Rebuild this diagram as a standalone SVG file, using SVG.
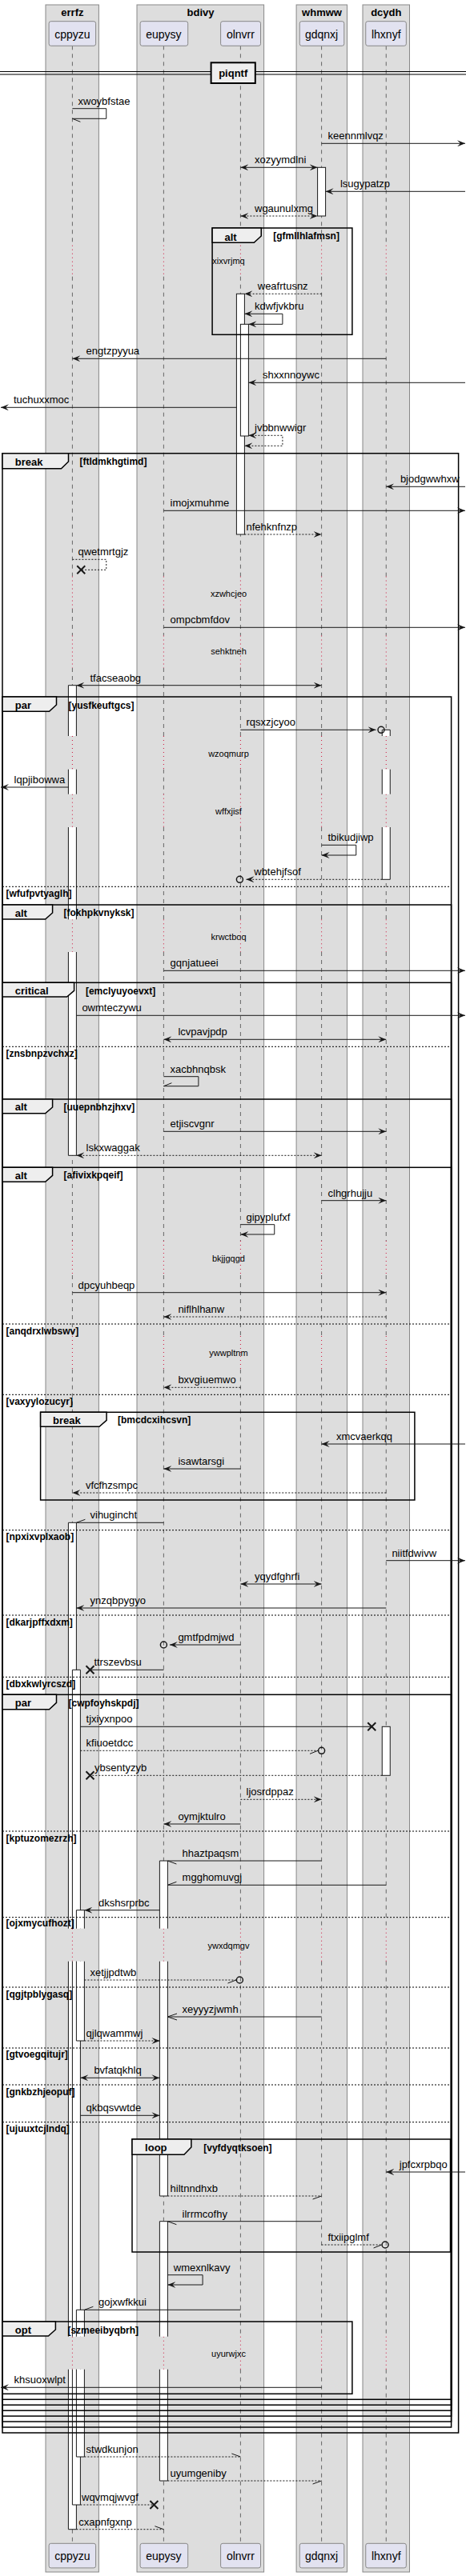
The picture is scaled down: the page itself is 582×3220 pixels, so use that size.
<svg xmlns="http://www.w3.org/2000/svg" width="582" height="3220" viewBox="0 0 582 3220">
<defs>
<style>
text{font-family:"Liberation Sans",Arial,sans-serif;fill:#000}
.bx{fill:#DDDDDD;stroke:#888;stroke-width:1}
.bt{font-size:13px;font-weight:bold;text-anchor:middle}
.pt{fill:#E2E2F0;stroke:#888;stroke-width:1}
.pn{font-size:14px;text-anchor:middle}
.ll{fill:none;stroke:#666;stroke-width:1;stroke-dasharray:5 5}
.dl{fill:none;stroke:#D0103A;stroke-width:1;stroke-dasharray:1 4}
.act{fill:#fff;stroke:none}
.acl{fill:none;stroke:#181818;stroke-width:1}
.fr{fill:none;stroke:#000;stroke-width:1.5}
.tab{fill:#EEEEEE;stroke:#000;stroke-width:1.5}
.sep{fill:none;stroke:#000;stroke-width:1;stroke-dasharray:2 2}
.fl{font-size:13px;font-weight:bold}
.gc{font-size:12px;font-weight:bold}
.m{fill:none;stroke:#181818;stroke-width:1}
.d{stroke-dasharray:2 2}
.e{marker-end:url(#fa)}
.b{marker-start:url(#fa);marker-end:url(#fa)}
.cx{fill:none;stroke:#181818;stroke-width:1.5}
.x{fill:none;stroke:#181818;stroke-width:2}
.lb{font-size:13px}
.dt{font-size:11px;text-anchor:middle}
</style>
<marker id="fa" viewBox="0 0 10 8" refX="10" refY="4" markerWidth="10" markerHeight="8" markerUnits="userSpaceOnUse" orient="auto-start-reverse">
<path d="M0,0 L10,4 L0,8 L4,4 Z" fill="#181818" stroke="none"/>
</marker>
</defs>
<rect width="582" height="3220" fill="#fff"/>

<g id="box-errfz"><rect class="bx" x="57" y="6" width="66.4" height="3209"/><text class="bt" x="90.4" y="19.5">errfz</text></g>
<g id="box-bdivy"><rect class="bx" x="171" y="6" width="158.6" height="3209"/><text class="bt" x="250.5" y="19.5">bdivy</text></g>
<g id="box-whmww"><rect class="bx" x="370.1" y="6" width="63.4" height="3209"/><text class="bt" x="402" y="19.5">whmww</text></g>
<g id="box-dcydh"><rect class="bx" x="453" y="6" width="58.5" height="3209"/><text class="bt" x="482.3" y="19.5">dcydh</text></g>

<g id="lifelines">
<path class="ll" d="M90.4,57.3V306.7M90.4,345.7V720.5M90.4,761V794.5M90.4,835V920M90.4,961.7V992.7M90.4,1034V1149.3M90.4,1190V1551M90.4,1594V1670M90.4,1711.7V2410.7M90.4,2451.7V2920.7M90.4,2961.7V3179.3"/>
<path class="ll" d="M204.4,57.3V306.7M204.4,345.7V720.5M204.4,761V794.5M204.4,835V920M204.4,961.7V992.7M204.4,1034V1149.3M204.4,1190V1551M204.4,1594V1670M204.4,1711.7V2410.7M204.4,2451.7V2920.7M204.4,2961.7V3179.3"/>
<path class="ll" d="M300.4,57.3V306.7M300.4,345.7V720.5M300.4,761V794.5M300.4,835V920M300.4,961.7V992.7M300.4,1034V1149.3M300.4,1190V1551M300.4,1594V1670M300.4,1711.7V2410.7M300.4,2451.7V2920.7M300.4,2961.7V3179.3"/>
<path class="ll" d="M401.6,57.3V306.7M401.6,345.7V720.5M401.6,761V794.5M401.6,835V920M401.6,961.7V992.7M401.6,1034V1149.3M401.6,1190V1551M401.6,1594V1670M401.6,1711.7V2410.7M401.6,2451.7V2920.7M401.6,2961.7V3179.3"/>
<path class="ll" d="M482.25,57.3V306.7M482.25,345.7V720.5M482.25,761V794.5M482.25,835V920M482.25,961.7V992.7M482.25,1034V1149.3M482.25,1190V1551M482.25,1594V1670M482.25,1711.7V2410.7M482.25,2451.7V2920.7M482.25,2961.7V3179.3"/>
<path class="dl" d="M90.4,306.7V345.7M90.4,720.5V761M90.4,794.5V835M90.4,920V961.7M90.4,992.7V1034M90.4,1149.3V1190M90.4,1551V1594M90.4,1670V1711.7M90.4,2410.7V2451.7M90.4,2920.7V2961.7"/>
<path class="dl" d="M204.4,306.7V345.7M204.4,720.5V761M204.4,794.5V835M204.4,920V961.7M204.4,992.7V1034M204.4,1149.3V1190M204.4,1551V1594M204.4,1670V1711.7M204.4,2410.7V2451.7M204.4,2920.7V2961.7"/>
<path class="dl" d="M300.4,306.7V345.7M300.4,720.5V761M300.4,794.5V835M300.4,920V961.7M300.4,992.7V1034M300.4,1149.3V1190M300.4,1551V1594M300.4,1670V1711.7M300.4,2410.7V2451.7M300.4,2920.7V2961.7"/>
<path class="dl" d="M401.6,306.7V345.7M401.6,720.5V761M401.6,794.5V835M401.6,920V961.7M401.6,992.7V1034M401.6,1149.3V1190M401.6,1551V1594M401.6,1670V1711.7M401.6,2410.7V2451.7M401.6,2920.7V2961.7"/>
<path class="dl" d="M482.25,306.7V345.7M482.25,720.5V761M482.25,794.5V835M482.25,920V961.7M482.25,992.7V1034M482.25,1149.3V1190M482.25,1551V1594M482.25,1670V1711.7M482.25,2410.7V2451.7M482.25,2920.7V2961.7"/>
</g>

<g id="p-cppyzu"><rect class="pt" x="61.1" y="26.7" width="58.5" height="30.6" rx="2.5"/><text class="pn" x="90.4" y="48">cppyzu</text><rect class="pt" x="61.1" y="3179.3" width="58.5" height="30.6" rx="2.5"/><text class="pn" x="90.4" y="3200">cppyzu</text></g>
<g id="p-eupysy"><rect class="pt" x="175.1" y="26.7" width="59.6" height="30.6" rx="2.5"/><text class="pn" x="204.4" y="48">eupysy</text><rect class="pt" x="175.1" y="3179.3" width="59.6" height="30.6" rx="2.5"/><text class="pn" x="204.4" y="3200">eupysy</text></g>
<g id="p-olnvrr"><rect class="pt" x="275.6" y="26.7" width="49.9" height="30.6" rx="2.5"/><text class="pn" x="300.4" y="48">olnvrr</text><rect class="pt" x="275.6" y="3179.3" width="49.9" height="30.6" rx="2.5"/><text class="pn" x="300.4" y="3200">olnvrr</text></g>
<g id="p-gdqnxj"><rect class="pt" x="374.25" y="26.7" width="55.5" height="30.6" rx="2.5"/><text class="pn" x="401.6" y="48">gdqnxj</text><rect class="pt" x="374.25" y="3179.3" width="55.5" height="30.6" rx="2.5"/><text class="pn" x="401.6" y="3200">gdqnxj</text></g>
<g id="p-lhxnyf"><rect class="pt" x="456.75" y="26.7" width="50.6" height="30.6" rx="2.5"/><text class="pn" x="482.25" y="48">lhxnyf</text><rect class="pt" x="456.75" y="3179.3" width="50.6" height="30.6" rx="2.5"/><text class="pn" x="482.25" y="3200">lhxnyf</text></g>

<g id="divider-piqntf">
<path d="M0,89.5H582M0,93H582" fill="none" stroke="#000" stroke-width="1"/>
<rect x="263.6" y="78.3" width="55.2" height="25.7" fill="#EEEEEE" stroke="#000" stroke-width="2"/>
<text class="fl" x="291.2" y="96" text-anchor="middle">piqntf</text>
</g>

<g id="activations">
<rect class="act" x="396.6" y="209.3" width="10" height="60.7"/><rect class="acl" x="396.6" y="209.3" width="10" height="60.7"/>
<rect class="act" x="295.4" y="367.3" width="10" height="300.7"/><rect class="acl" x="295.4" y="367.3" width="10" height="300.7"/>
<rect class="act" x="300.4" y="405.3" width="10" height="139.7"/><rect class="acl" x="300.4" y="405.3" width="10" height="139.7"/>
<rect class="act" x="85.4" y="856.7" width="10" height="63.3"/><rect class="act" x="85.4" y="961.7" width="10" height="31"/><rect class="act" x="85.4" y="1034" width="10" height="115.3"/><rect class="act" x="85.4" y="1190" width="10" height="254.3"/>
<path class="acl" d="M85.4,856.7H95.4M85.4,1444.3H95.4M85.4,856.7V920M95.4,856.7V920M85.4,961.7V992.7M95.4,961.7V992.7M85.4,1034V1149.3M95.4,1034V1149.3M85.4,1190V1444.3M95.4,1190V1444.3"/>
<rect class="act" x="477.25" y="912.3" width="10" height="7.7"/><rect class="act" x="477.25" y="961.7" width="10" height="31"/><rect class="act" x="477.25" y="1034" width="10" height="65.3"/>
<path class="acl" d="M477.25,912.3H487.25M477.25,1099.3H487.25M477.25,912.3V920M487.25,912.3V920M477.25,961.7V992.7M487.25,961.7V992.7M477.25,1034V1099.3M487.25,1034V1099.3"/>
<rect class="act" x="85.4" y="1903.3" width="10" height="507.4"/><rect class="act" x="85.4" y="2451.7" width="10" height="469"/><rect class="act" x="85.4" y="2961.7" width="10" height="200"/>
<path class="acl" d="M85.4,1903.3H95.4M85.4,3161.7H95.4M85.4,1903.3V2410.7M95.4,1903.3V2410.7M85.4,2451.7V2920.7M95.4,2451.7V2920.7M85.4,2961.7V3161.7M95.4,2961.7V3161.7"/>
<rect class="act" x="90.4" y="2087.3" width="10" height="323.4"/><rect class="act" x="90.4" y="2451.7" width="10" height="469"/><rect class="act" x="90.4" y="2961.7" width="10" height="169.3"/>
<path class="acl" d="M90.4,2087.3H100.4M90.4,3131H100.4M90.4,2087.3V2410.7M100.4,2087.3V2410.7M90.4,2451.7V2920.7M100.4,2451.7V2920.7M90.4,2961.7V3131M100.4,2961.7V3131"/>
<rect class="act" x="95.4" y="2387.7" width="10" height="23"/><rect class="act" x="95.4" y="2451.7" width="10" height="99.3"/>
<path class="acl" d="M95.4,2387.7H105.4M95.4,2551H105.4M95.4,2387.7V2410.7M105.4,2387.7V2410.7M95.4,2451.7V2551M105.4,2451.7V2551"/>
<rect class="act" x="95.4" y="2887.3" width="10" height="33.4"/><rect class="act" x="95.4" y="2961.7" width="10" height="109.3"/>
<path class="acl" d="M95.4,2887.3H105.4M95.4,3071H105.4M95.4,2887.3V2920.7M105.4,2887.3V2920.7M95.4,2961.7V3071M105.4,2961.7V3071"/>
<rect class="act" x="477.25" y="2158.3" width="10" height="61"/><rect class="acl" x="477.25" y="2158.3" width="10" height="61"/>
<rect class="act" x="199.4" y="2326" width="10" height="84.7"/><rect class="act" x="199.4" y="2451.7" width="10" height="293.3"/>
<path class="acl" d="M199.4,2326H209.4M199.4,2745H209.4M199.4,2326V2410.7M209.4,2326V2410.7M199.4,2451.7V2745M209.4,2451.7V2745"/>
<rect class="act" x="199.4" y="2776.7" width="10" height="144"/><rect class="act" x="199.4" y="2961.7" width="10" height="139.3"/>
<path class="acl" d="M199.4,2776.7H209.4M199.4,3101H209.4M199.4,2776.7V2920.7M209.4,2776.7V2920.7M199.4,2961.7V3101M209.4,2961.7V3101"/>
</g>

<g id="frames">
<g id="f-alt1"><rect class="fr" x="265.1" y="285" width="174.8" height="133.3"/><path class="tab" d="M265.1,285H326.25V295L317.25,303.3H265.1Z"/><text class="fl" x="280.5" y="300.5">alt</text><text class="gc" x="341.25" y="299">[gfmllhlafmsn]</text></g>
<g id="f-break1"><rect class="fr" x="3" y="566.7" width="569.6" height="2474.3"/><path class="tab" d="M3,566.7H85.5V577L76.5,585.7H3Z"/><text class="fl" x="18.75" y="582.2">break</text><text class="gc" x="99.4" y="581.3">[ftldmkhgtimd]</text></g>
<g id="f-par1"><rect class="fr" x="3" y="871" width="560.6" height="2163"/><path class="tab" d="M3,871H70.5V881L61.5,889.3H3Z"/><text class="fl" x="18.75" y="886.3">par</text><text class="gc" x="85.5" y="885.5">[yusfkeuftgcs]</text>
<path class="sep" d="M3,1108.3H563.6"/><text class="gc" x="7.5" y="1120.5">[wfufpvtyaglh]</text></g>
<g id="f-alt2"><rect class="fr" x="3" y="1131" width="560.6" height="1896"/><path class="tab" d="M3,1131H65.6V1141L56.6,1149H3Z"/><text class="fl" x="18.75" y="1145.5">alt</text><text class="gc" x="79.5" y="1144.5">[fokhpkvnyksk]</text></g>
<g id="f-critical"><rect class="fr" x="3" y="1228.3" width="560.6" height="1791.8"/><path class="tab" d="M3,1228.3H92.6V1238.3L83.6,1246H3Z"/><text class="fl" x="18.75" y="1243">critical</text><text class="gc" x="106.9" y="1242.5">[emclyuyoevxt]</text>
<path class="sep" d="M3,1308.3H563.6"/><text class="gc" x="7.5" y="1320.8">[znsbnpzvchxz]</text></g>
<g id="f-alt3"><rect class="fr" x="3" y="1374" width="560.6" height="1639.2"/><path class="tab" d="M3,1374H65.6V1384L56.6,1391.7H3Z"/><text class="fl" x="18.75" y="1388.3">alt</text><text class="gc" x="79.5" y="1387.5">[uuepnbhzjhxv]</text></g>
<g id="f-alt4"><rect class="fr" x="3" y="1459.3" width="560.6" height="1546.9"/><path class="tab" d="M3,1459.3H65.6V1469.3L56.6,1477.3H3Z"/><text class="fl" x="18.75" y="1474">alt</text><text class="gc" x="79.5" y="1473.3">[afivixkpqeif]</text>
<path class="sep" d="M3,1655H563.6M3,1743.3H563.6M3,1912.7H563.6M3,2019H563.6M3,2096.3H563.6"/>
<text class="gc" x="7.5" y="1667.5">[anqdrxlwbswv]</text><text class="gc" x="7.5" y="1755.8">[vaxyylozucyr]</text><text class="gc" x="7.5" y="1925">[npxixvplxaob]</text><text class="gc" x="7.5" y="2031.5">[dkarjpffxdxm]</text><text class="gc" x="7.5" y="2108.5">[dbxkwlyrcszd]</text></g>
<g id="f-break2"><rect class="fr" x="50.6" y="1765.3" width="467.3" height="109.7"/><path class="tab" d="M50.6,1765.3H133.1V1775.3L124.1,1783.3H50.6Z"/><text class="fl" x="66" y="1780">break</text><text class="gc" x="147" y="1779">[bmcdcxihcsvn]</text></g>
<g id="f-par3"><rect class="fr" x="3" y="2118.3" width="560.6" height="881"/><path class="tab" d="M3,2118.3H70.5V2128.3L61.5,2136.7H3Z"/><text class="fl" x="18.75" y="2133">par</text><text class="gc" x="85.5" y="2132.5">[cwpfoyhskpdj]</text>
<path class="sep" d="M3,2289H563.6M3,2396.7H563.6M3,2484H563.6M3,2560H563.6M3,2606H563.6M3,2652.7H563.6"/>
<text class="gc" x="7.5" y="2301.5">[kptuzomezrzh]</text><text class="gc" x="7.5" y="2408">[ojxmycufhozt]</text><text class="gc" x="7.5" y="2496.5">[qgjtpblygasq]</text><text class="gc" x="7.5" y="2572.3">[gtvoegqitujr]</text><text class="gc" x="7.5" y="2618.5">[gnkbzhjeopuf]</text><text class="gc" x="7.5" y="2664.5">[ujuuxtcjlndq]</text></g>
<g id="f-loop"><rect class="fr" x="165" y="2674" width="397.5" height="141"/><path class="tab" d="M165,2674H238.9V2684L229.9,2693.3H165Z"/><text class="fl" x="181.1" y="2689">loop</text><text class="gc" x="254.25" y="2688.5">[vyfdyqtksoen]</text></g>
<g id="f-opt"><rect class="fr" x="3" y="2902" width="436.9" height="90.3"/><path class="tab" d="M3,2902H69.4V2912L60.4,2920H3Z"/><text class="fl" x="18.75" y="2917">opt</text><text class="gc" x="84.4" y="2916.5">[szmeeibyqbrh]</text></g>
</g>

<g id="delays">
<text class="dt" x="285.5" y="329.5">xixvrjmq</text>
<text class="dt" x="285.5" y="746">xzwhcjeo</text>
<text class="dt" x="285.5" y="818">sehktneh</text>
<text class="dt" x="285.5" y="946">wzoqmurp</text>
<text class="dt" x="285.5" y="1018">wffxjisf</text>
<text class="dt" x="285.5" y="1175">krwctboq</text>
<text class="dt" x="285.5" y="1577">bkjjgqgd</text>
<text class="dt" x="285.5" y="1695">ywwpltnm</text>
<text class="dt" x="285.5" y="2435.5">ywxdqmgv</text>
<text class="dt" x="285.5" y="2946">uyurwjxc</text>
</g>

<g id="connectors">
<path class="m" d="M90.4,135.7H132.75V148.3H90.4M90.4,148.3l10,4"/><text class="lb" x="97.5" y="130.7">xwoybfstae</text>
<path class="m e" d="M401.6,179.3H581"/><text class="lb" x="409.5" y="174.3">keennmlvqz</text>
<path class="m b" d="M300.4,209.3H396.6"/><text class="lb" x="318" y="204.3">xozyymdlni</text>
<path class="m e" d="M581,239.3H406.6"/><text class="lb" x="424.9" y="234.3">lsugypatzp</text>
<path class="m d b" d="M300.4,270H396.6"/><text class="lb" x="318" y="265">wgaunulxmg</text>
<path class="m d e" d="M401.6,367.3H305.4"/><text class="lb" x="321.75" y="362.3">weafrtusnz</text>
<path class="m b" d="M305.4,392.3H352.9V405.3H310.4"/><text class="lb" x="318" y="387.3">kdwfjvkbru</text>
<path class="m e" d="M482.25,448.3H90.4"/><text class="lb" x="107.6" y="443.3">engtzpyyua</text>
<path class="m e" d="M581,478.3H310.4"/><text class="lb" x="328.1" y="473.3">shxxnnoywc</text>
<path class="m e" d="M295.4,509.3H1"/><text class="lb" x="16.9" y="504.3">tuchuxxmoc</text>
<path class="m d b" d="M310.4,544.3H352.9V557.3H305.4"/><text class="lb" x="318" y="539.3">jvbbnwwigr</text>
<path class="m e" d="M581,608.3H482.25"/><text class="lb" x="499.9" y="603.3">bjodgwwhxw</text>
<path class="m e" d="M204.4,638.3H581"/><text class="lb" x="212.6" y="633.3">imojxmuhme</text>
<path class="m d e" d="M305.4,668H401.6"/><text class="lb" x="307.5" y="663">nfehknfnzp</text>
<path class="m d" d="M90.4,699.3H132.75V712.3H101.25"/><path class="x" d="M96.25,707.3l10,10M106.25,707.3l-10,10"/><text class="lb" x="97.5" y="694.3">qwetmrtgjz</text>
<path class="m e" d="M204.4,784.3H581"/><text class="lb" x="212.6" y="779.3">ompcbmfdov</text>
<path class="m b" d="M95.4,856.7H401.6"/><text class="lb" x="112.5" y="851.7">tfacseaobg</text>
<path class="m e" d="M300.4,912.3H469.5"/><circle class="cx" cx="476" cy="912.3" r="4"/><text class="lb" x="307.5" y="907.3">rqsxzjcyoo</text>
<path class="m e" d="M85.4,984H1"/><text class="lb" x="17.6" y="979">lqpjibowwa</text>
<path class="m e" d="M401.6,1056.3H444.75V1069H401.6"/><text class="lb" x="409.5" y="1051.3">tbikudjiwp</text>
<path class="m d e" d="M477.25,1099.3H307.5"/><circle class="cx" cx="299.4" cy="1099.3" r="4"/><text class="lb" x="317.25" y="1094.3">wbtehjfsof</text>
<path class="m e" d="M204.4,1213.3H581"/><text class="lb" x="212.6" y="1208.3">gqnjatueei</text>
<path class="m e" d="M95.4,1269.3H581"/><text class="lb" x="102.4" y="1264.3">owmteczywu</text>
<path class="m b" d="M204.4,1299.3H482.25"/><text class="lb" x="222.4" y="1294.3">lcvpavjpdp</text>
<path class="m" d="M204.4,1345.7H247.9V1357.7H204.4M204.4,1357.7l10,-4"/><text class="lb" x="212.6" y="1340.7">xacbhnqbsk</text>
<path class="m e" d="M204.4,1414.3H482.25"/><text class="lb" x="212.6" y="1409.3">etjiscvgnr</text>
<path class="m d b" d="M95.4,1444.3H401.6"/><text class="lb" x="107.6" y="1439.3">lskxwaggak</text>
<path class="m e" d="M401.6,1500.7H482.25"/><text class="lb" x="409.5" y="1495.7">clhgrhujju</text>
<path class="m e" d="M300.4,1530.7H342.75V1543H300.4"/><text class="lb" x="307.5" y="1525.7">gipyplufxf</text>
<path class="m e" d="M90.4,1615.7H482.25"/><text class="lb" x="97.5" y="1610.7">dpcyuhbeqp</text>
<path class="m d e" d="M482.25,1646H204.4"/><text class="lb" x="222.4" y="1641">niflhlhanw</text>
<path class="m d e" d="M300.4,1734.3H204.4"/><text class="lb" x="222.4" y="1729.3">bxvgiuemwo</text>
<path class="m e" d="M581,1805H401.6"/><text class="lb" x="420" y="1800">xmcvaerkqq</text>
<path class="m e" d="M300.4,1836H204.4"/><text class="lb" x="222.4" y="1831">isawtarsgi</text>
<path class="m d e" d="M482.25,1866H90.4"/><text class="lb" x="106.9" y="1861">vfcfhzsmpc</text>
<path class="m" d="M204.4,1903.3H95.4M95.4,1903.3l11,-4"/><text class="lb" x="112.5" y="1898.3">vihugincht</text>
<path class="m e" d="M482.25,1950.7H581"/><text class="lb" x="489.4" y="1945.7">niitfdwivw</text>
<path class="m b" d="M300.4,1980H401.6"/><text class="lb" x="318" y="1975">yqydfghrfi</text>
<path class="m e" d="M482.25,2010H95.4"/><text class="lb" x="112.5" y="2005">ynzqbpygyo</text>
<path class="m e" d="M300.4,2056H211.9"/><circle class="cx" cx="204.4" cy="2056" r="4"/><text class="lb" x="222.4" y="2051">gmtfpdmjwd</text>
<path class="m" d="M204.4,2087.3H112.5"/><path class="x" d="M107.5,2082.3l10,10M117.5,2082.3l-10,10"/><text class="lb" x="117.4" y="2082.3">ttrszevbsu</text>
<path class="m" d="M100.4,2158.3H464.25"/><path class="x" d="M459.25,2153.3l10,10M469.25,2153.3l-10,10"/><text class="lb" x="107.6" y="2153.3">tjxiyxnpoo</text>
<path class="m d" d="M100.4,2188.3H397"/><path class="m" d="M397,2188.3l-10,4"/><circle class="cx" cx="401.6" cy="2188.3" r="4"/><text class="lb" x="107.6" y="2183.3">kfiuoetdcc</text>
<path class="m d" d="M477.25,2219.3H112.5"/><path class="x" d="M107.5,2214.3l10,10M117.5,2214.3l-10,10"/><text class="lb" x="118.1" y="2214.3">ybsentyzyb</text>
<path class="m d e" d="M300.4,2249.3H401.6"/><text class="lb" x="307.5" y="2244.3">ljosrdppaz</text>
<path class="m e" d="M300.4,2280H204.4"/><text class="lb" x="222.4" y="2275">oymjktulro</text>
<path class="m" d="M401.6,2326H209.4M209.4,2326l11,4"/><text class="lb" x="227.6" y="2321">hhaztpaqsm</text>
<path class="m" d="M482.25,2356.3H209.4M209.4,2356.3l11,-4"/><text class="lb" x="227.6" y="2351.3">mgghomuvgj</text>
<path class="m e" d="M199.4,2387.7H105.4"/><text class="lb" x="123" y="2382.7">dkshsrprbc</text>
<path class="m d" d="M105.4,2475H294.9"/><path class="m" d="M294.9,2475l-10.4,4"/><circle class="cx" cx="299.4" cy="2475" r="4"/><text class="lb" x="112.5" y="2470">xetjjpdtwb</text>
<path class="m" d="M401.6,2521H209.4M221,2517L209.4,2521L221,2525"/><text class="lb" x="227.6" y="2516">xeyyyzjwmh</text>
<path class="m d e" d="M105.4,2551H199.4"/><text class="lb" x="107.6" y="2546">qjlqwammwj</text>
<path class="m b" d="M100.4,2597.3H199.4"/><text class="lb" x="117.4" y="2592.3">bvfatqkhlq</text>
<path class="m e" d="M100.4,2644.3H199.4"/><text class="lb" x="107.6" y="2639.3">qkbqsvwtde</text>
<path class="m e" d="M581,2715H482.25"/><text class="lb" x="498.75" y="2710">jpfcxrpbqo</text>
<path class="m d" d="M209.4,2745H401.6"/><path class="m" d="M401.6,2745l-11,4"/><text class="lb" x="212.6" y="2740">hiltnndhxb</text>
<path class="m" d="M401.6,2776.7H209.4M209.4,2776.7l11,4"/><text class="lb" x="227.6" y="2771.7">ilrrmcofhy</text>
<path class="m d" d="M401.6,2806H476.6"/><path class="m" d="M476.6,2806l-10,4"/><circle class="cx" cx="481.1" cy="2806" r="4"/><text class="lb" x="409.5" y="2801">ftxiipglmf</text>
<path class="m e" d="M209.4,2843.7H253.1V2856H209.4"/><text class="lb" x="216.75" y="2838.7">wmexnlkavy</text>
<path class="m" d="M300.4,2887.3H105.4M105.4,2887.3l11,-4"/><text class="lb" x="123" y="2882.3">gojxwfkkui</text>
<path class="m e" d="M401.6,2984.3H1"/><text class="lb" x="17.6" y="2979.3">khsuoxwlpt</text>
<path class="m d" d="M105.4,3071H300.4"/><path class="m" d="M300.4,3071l-11,-4"/><text class="lb" x="107.6" y="3066">stwdkunjon</text>
<path class="m d" d="M209.4,3101H401.6"/><path class="m" d="M401.6,3101l-11,4"/><text class="lb" x="212.6" y="3096">uyumgeniby</text>
<path class="m d" d="M100.4,3131H192.4"/><path class="x" d="M187.4,3126l10,10M197.4,3126l-10,10"/><text class="lb" x="102" y="3126">wqvmqjwvgf</text>
<path class="m d" d="M95.4,3161.7H204.4"/><path class="m" d="M204.4,3161.7l-11,-4"/><text class="lb" x="98.25" y="3156.7">cxapnfgxnp</text>
</g>
</svg>
